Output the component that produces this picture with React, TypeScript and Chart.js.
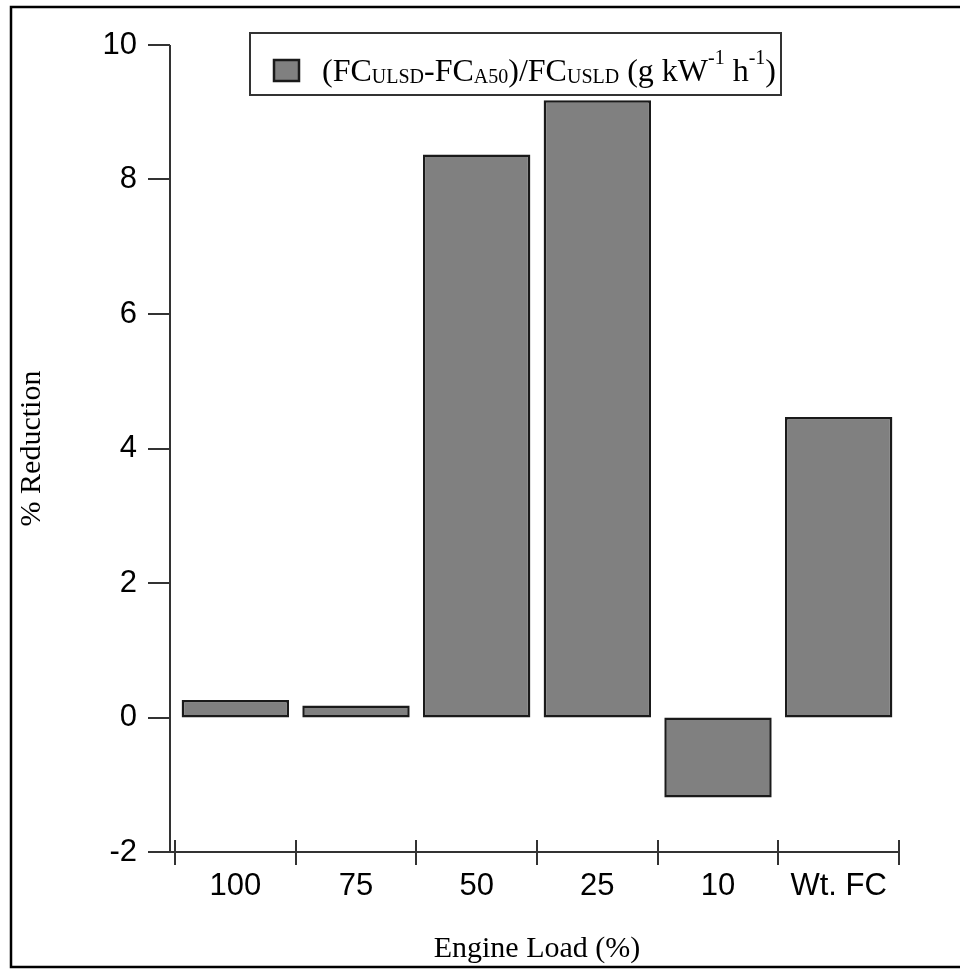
import React, { useEffect, useRef } from "react";
import { Chart, registerables } from "chart.js";

Chart.register(...registerables);

const categories = ["100", "75", "50", "25", "10", "Wt. FC"];
const reductionValues = [0.26, 0.18, 8.37, 9.18, -1.19, 4.47];
const yTicks = [-2, 0, 2, 4, 6, 8, 10];
const yTitle = "% Reduction";
const xTitle = "Engine Load (%)";
// legend text pieces: [text, kind] where kind is "n" normal, "sub" subscript, "sup" superscript
const legendPieces: [string, string][] = [
  ["(FC", "n"],
  ["ULSD", "sub"],
  ["-FC", "n"],
  ["A50", "sub"],
  [")/FC", "n"],
  ["USLD", "sub"],
  [" (g kW", "n"],
  ["-1", "sup"],
  [" h", "n"],
  ["-1", "sup"],
  [")", "n"],
];

const AXIS_COLOR = "#333333";
const BAR_FILL = "#808080";
const BAR_BORDER = "#1a1a1a";

const customPlugin = {
  id: "customAxesLegend",
  afterDraw(chart: any) {
    const { ctx, chartArea, scales } = chart;
    const y = scales.y;
    const n = categories.length;
    const axisX = chartArea.left - 5;
    const yTop = Math.round(y.getPixelForValue(yTicks[yTicks.length - 1]));
    const yBot = Math.round(y.getPixelForValue(yTicks[0]));
    ctx.save();
    // outer frame
    ctx.strokeStyle = "#000";
    ctx.lineWidth = 2.5;
    ctx.beginPath();
    ctx.moveTo(970, 7);
    ctx.lineTo(11, 7);
    ctx.lineTo(11, 967);
    ctx.lineTo(970, 967);
    ctx.stroke();

    // axes
    ctx.strokeStyle = AXIS_COLOR;
    ctx.lineWidth = 2;
    ctx.beginPath();
    ctx.moveTo(axisX, yTop);
    ctx.lineTo(axisX, yBot);
    ctx.lineTo(chartArea.right, yBot);
    for (const t of yTicks) {
      const py = Math.round(y.getPixelForValue(t));
      ctx.moveTo(axisX - 22, py);
      ctx.lineTo(axisX, py);
    }
    const w = (chartArea.right - chartArea.left) / n;
    for (let i = 0; i <= n; i++) {
      const px = Math.round(chartArea.left + i * w);
      ctx.moveTo(px, yBot - 12);
      ctx.lineTo(px, yBot + 13);
    }
    ctx.stroke();

    // legend box
    const bx = chartArea.left + 75;
    const by = 33;
    const bw = 531;
    const bh = 62;
    ctx.strokeStyle = AXIS_COLOR;
    ctx.lineWidth = 2;
    ctx.strokeRect(bx, by, bw, bh);
    ctx.fillStyle = BAR_FILL;
    ctx.fillRect(bx + 24, by + 27, 25, 21);
    ctx.strokeStyle = BAR_BORDER;
    ctx.lineWidth = 2.5;
    ctx.strokeRect(bx + 24, by + 27, 25, 21);

    ctx.fillStyle = "#000";
    ctx.textBaseline = "alphabetic";
    ctx.textAlign = "left";
    let tx = bx + 72;
    const base = by + 48;
    for (const [txt, kind] of legendPieces) {
      if (kind === "n") {
        ctx.font = "32px 'Liberation Serif'";
        ctx.fillText(txt, tx, base);
      } else if (kind === "sub") {
        ctx.font = "20px 'Liberation Serif'";
        ctx.fillText(txt, tx, base + 2);
      } else {
        ctx.font = "20px 'Liberation Serif'";
        ctx.fillText(txt, tx, base - 17);
      }
      tx += ctx.measureText(txt).width;
    }
    ctx.restore();
  },
};

export default function App() {
  const canvasRef = useRef<HTMLCanvasElement | null>(null);

  useEffect(() => {
    const canvas = canvasRef.current;
    if (!canvas) return;
    const chart = new Chart(canvas, {
      type: "bar",
      data: {
        labels: categories,
        datasets: [
          {
            label: "(FC ULSD - FC A50)/FC USLD",
            data: reductionValues,
            backgroundColor: BAR_FILL,
            borderColor: BAR_BORDER,
            borderWidth: 2.5,
            borderSkipped: false,
            categoryPercentage: 1,
            barPercentage: 0.89,
          },
        ],
      },
      options: {
        animation: false,
        responsive: false,
        devicePixelRatio: 1,
        layout: { padding: { left: 0, top: 45, right: 61, bottom: 0 } },
        plugins: {
          legend: { display: false },
          tooltip: { enabled: false },
        },
        scales: {
          x: {
            type: "category",
            offset: true,
            grid: { display: false, drawTicks: false },
            border: { display: false },
            ticks: {
              color: "#000",
              padding: 16,
              maxRotation: 0,
              font: { family: "'Liberation Sans'", size: 31 },
            },
            title: {
              display: true,
              text: xTitle,
              color: "#000",
              font: { family: "'Liberation Serif'", size: 30 },
              padding: { top: 0, bottom: 2 },
            },
            afterFit: (s: any) => {
              s.height = 117;
              s.paddingLeft = 0;
              s.paddingRight = 0;
            },
          },
          y: {
            min: yTicks[0],
            max: yTicks[yTicks.length - 1],
            grid: { display: false, drawTicks: false },
            border: { display: false },
            ticks: {
              stepSize: 2,
              color: "#000",
              padding: 38,
              font: { family: "'Liberation Sans'", size: 31 },
            },
            title: {
              display: true,
              text: yTitle,
              color: "#000",
              font: { family: "'Liberation Serif'", size: 30 },
              padding: { top: 14, bottom: 0 },
            },
            afterFit: (s: any) => {
              s.width = 175;
              s.paddingTop = 0;
              s.paddingBottom = 0;
            },
          },
        },
      },
      plugins: [customPlugin],
    });
    return () => chart.destroy();
  }, []);

  return (
    <div style={{ position: "absolute", left: 0, top: 0, width: 960, height: 969, background: "#fff" }}>
      <canvas ref={canvasRef} width={960} height={969} style={{ display: "block" }} />
    </div>
  );
}
